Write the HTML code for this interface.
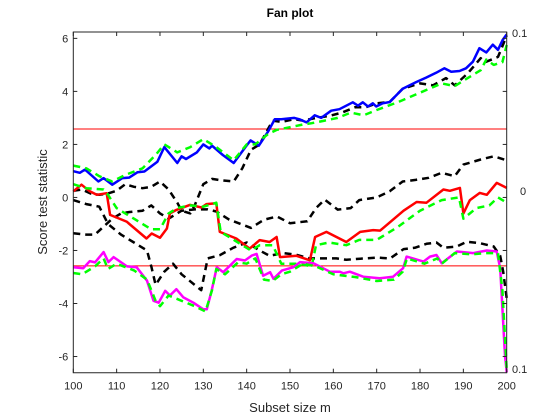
<!DOCTYPE html>
<html><head><meta charset="utf-8"><style>
body{margin:0;background:#fff;}
svg{display:block;font-family:"Liberation Sans",Arial,sans-serif;}
</style></head><body>
<svg id="chart" width="560" height="420" viewBox="0 0 560 420">
<rect width="560" height="420" fill="#fff"/>
<g id="grid"></g>
<g id="series"></g>
<g id="axes"></g>
<text x="290" y="17" text-anchor="middle" font-size="12" font-weight="bold">Fan plot</text>
<text x="290" y="412" text-anchor="middle" font-size="13" fill="#262626">Subset size m</text>
<text transform="translate(47,202) rotate(-90)" text-anchor="middle" font-size="13" fill="#262626">Score test statistic</text>
<text x="512" y="37" font-size="11" fill="#262626">0.1</text>
<text x="520" y="195" font-size="11" fill="#262626">0</text>
<text x="512" y="373" font-size="11" fill="#262626">0.1</text>
</svg>
<script>
const xTicks=[100,110,120,130,140,150,160,170,180,190,200];
const yTicks=[-6,-4,-2,0,2,4,6];
const bandLevels=[2.58,-2.58];
const blueM=[100,101.5,102.7,105.8,107,109,111.3,112.9,114.8,116.4,119.4,121,124,125,126,128.5,130,131.4,132,134.5,137,139.7,140.9,142.8,144,145,146.5,148,151,152.3,153.8,155.7,157.2,159.5,161.4,164.5,165.7,166.8,168,169.1,169.9,171.4,173,176,179.1,181.4,183.7,185.6,187.2,189.1,190.6,192.2,193.7,195.3,196.8,198,199.1,200];
const blueV=[0.99,0.93,1.05,0.6,0.73,0.48,0.73,0.75,0.95,0.98,1.35,1.9,1.3,1.55,1.45,1.7,2.0,1.85,1.95,1.6,1.3,1.9,2.15,1.95,2.25,2.5,2.95,2.95,3.0,2.94,2.83,3.1,3.0,3.27,3.33,3.59,3.46,3.59,3.43,3.55,3.43,3.55,3.6,4.1,4.35,4.52,4.7,4.87,4.74,4.77,4.87,5.12,5.63,5.47,5.76,5.57,5.95,6.15];
const greenUpM=[100,103,106,109,112,116,119,121,124,127,130,133,137,140,142,145,147,150,153,155,158,161,164,167,170,175,180,185,188,191,194,195.3,197,199,200];
const greenUpV=[1.2,1.1,0.8,0.6,0.85,1.1,1.6,2.0,1.7,1.9,2.2,1.9,1.4,2.0,2.0,2.4,2.55,2.65,2.75,2.8,2.9,3.0,3.2,3.1,3.3,3.6,3.95,4.3,4.2,4.5,4.8,5.2,5.0,5.1,5.75];
const redM=[100,101.9,103.8,105.4,107.7,108.5,112.3,116.9,118.1,120,121.6,122.3,123.8,126.9,129.6,130.7,133,133.8,137.6,140.7,143,145.3,146.9,147.7,151.5,154.6,155.8,158.4,163,166.2,169.2,170.8,176.2,179.2,181.5,185.4,186.9,189.2,190,191.5,193.8,195.4,197.7,200];
const redV=[0.23,0.48,0.23,0.1,0.16,-0.66,-0.91,-1.55,-1.36,-1.52,-1.17,-0.6,-0.47,-0.28,-0.38,-0.25,-0.22,-1.3,-1.55,-1.93,-1.61,-1.68,-1.49,-2.25,-2.2,-2.37,-1.49,-1.3,-1.68,-1.3,-1.23,-1.25,-0.5,-0.17,-0.2,0.3,0.25,0.36,-0.6,-0.1,0.17,0.1,0.55,0.36];
const greenMidM=[100,103,107,108,110,114,118,120,122,124,127,130,133,134,138,141,143,146,148,152,155,156,159,163,166,170,175,180,185,189,190,193,196,198,200];
const greenMidV=[0.5,0.35,0.3,0.1,-0.4,-0.8,-1.2,-1.2,-0.6,-0.4,-0.3,-0.35,-0.2,-1.3,-1.7,-2.0,-1.8,-1.8,-2.5,-2.5,-2.6,-1.8,-1.7,-1.8,-1.6,-1.6,-1.1,-0.5,-0.1,0.0,-0.8,-0.4,-0.3,0.0,-0.2];
const magM=[100,102.3,103.8,105,107,108.1,109.3,112.4,114.6,117,118.5,119.7,121.2,122.3,123.8,125.4,127.7,130,130.8,131.9,133.1,134.6,137.7,139.6,141.2,142.3,143.8,145.4,146.2,148.1,150.8,152.3,155.4,159.2,161.5,162.3,163.8,166.9,170.7,173.8,176.1,176.9,180.8,182.3,183.8,185,188.5,192.3,195.4,197.7,198.5,199.6,200];
const magV=[-2.63,-2.67,-2.4,-2.45,-2.06,-2.44,-2.25,-2.6,-2.63,-3.14,-3.9,-3.97,-3.52,-3.7,-3.46,-3.77,-3.97,-4.22,-4.22,-3.52,-2.63,-2.82,-2.32,-2.38,-2.19,-2.13,-2.95,-2.82,-3.07,-2.76,-2.63,-2.44,-2.48,-2.8,-2.8,-2.86,-2.8,-2.99,-3.05,-2.99,-2.67,-2.23,-2.42,-2.23,-2.17,-2.48,-2.04,-2.1,-2.0,-2.04,-2.67,-5.97,-6.6];
const greenLowM=[100,102,105,107,108,110,114,117,119,120,122,125,128,130.5,132,133,135,138,140,142,144,146,148,150,153,156,160,165,170,174,176,177,181,184,185,188,192,195,198,199,200];
const greenLowV=[-2.85,-2.9,-2.6,-2.3,-2.7,-2.5,-2.75,-3.1,-3.9,-4.1,-3.7,-3.9,-4.1,-4.3,-3.5,-2.7,-2.9,-2.45,-2.5,-2.3,-3.1,-3.15,-2.9,-2.8,-2.5,-2.6,-2.9,-3.0,-3.15,-3.1,-2.8,-2.3,-2.5,-2.3,-2.5,-2.1,-2.15,-2.1,-2.1,-3.5,-6.5];
const blackAM=[100,102,104,106,108,110,112,114,116,118,120,122,124,125,127,128,130,132,134,137,139,141,143,145,146,148,151,153,156,159,162,165,167.5,170,173,176,180,183,186,188,191,194,195,198,200];
const blackAV=[0.25,0.3,0.15,0.1,0.15,0.25,0.5,0.4,0.35,0.4,0.6,0.3,-0.2,-0.5,-0.6,-0.3,0.5,0.7,0.65,0.6,1.1,1.8,2.0,2.6,2.9,2.85,2.95,2.9,3.0,3.07,3.2,3.4,3.4,3.55,3.6,4.1,4.3,4.23,4.5,4.23,4.68,5.25,5.1,5.3,6.1];
const blackBM=[100,103,106,108,111,114,117,118,119,121,123,125,128,129.5,131,133.8,136.9,140,143,145.3,148.4,151.4,154.5,157.6,160.7,163,166.2,170,173.1,176.2,178.8,181.5,183.8,185.4,188.5,190.8,193.9,197,198.5,199.2,200];
const blackBV=[-0.1,-0.25,-0.35,-1.0,-1.4,-1.7,-2.0,-2.6,-3.3,-2.8,-2.5,-2.9,-3.3,-3.5,-2.3,-2.18,-1.9,-1.7,-2.0,-2.2,-2.1,-2.16,-2.3,-2.3,-2.3,-2.35,-2.31,-2.27,-2.3,-1.95,-1.9,-1.75,-1.7,-1.9,-1.85,-1.67,-1.73,-1.85,-2.2,-2.8,-3.8];
const blackCM=[100,103,105,107,109,111,113,116,118,120,122,125,128,131,133,136,141,144,147,150,154,156,158,161,164,166,170,173,176,179,182,185,188,190,194,197,200];
const blackCV=[-1.35,-1.4,-1.4,-1.1,-0.8,-0.6,-0.55,-0.5,-0.3,-0.6,-0.8,-0.5,-0.45,-0.45,-0.53,-0.84,-1.15,-0.84,-0.72,-0.97,-0.9,-0.4,-0.08,-0.46,-0.4,-0.1,0.0,0.23,0.6,0.66,0.74,0.93,0.8,1.24,1.43,1.55,1.4];

const L=73.3,R=506.7,T=32,B=372.7;
const xMin=100,xMax=200,yMin=-6.61,yMax=6.24;
const sx=m=>L+(m-xMin)/(xMax-xMin)*(R-L);
const sy=v=>B-(v-yMin)/(yMax-yMin)*(B-T);
const NS='http://www.w3.org/2000/svg';
const axes=document.getElementById('axes'),ser=document.getElementById('series'),grid=document.getElementById('grid');
function mk(tag,attrs,parent){const e=document.createElementNS(NS,tag);for(const k in attrs)e.setAttribute(k,attrs[k]);parent.appendChild(e);return e;}

bandLevels.forEach(b=>{
  const l=mk('line',{x1:L,x2:R,y1:sy(b),y2:sy(b),stroke:'#ff0000','stroke-width':1},grid);
  
  
});

function drawSeries(ms,vs,color,w,dash,name){
  const d=ms.map((m,i)=>(i?'L':'M')+sx(m).toFixed(1)+','+sy(vs[i]).toFixed(1)).join('');
  const p=mk('path',{d:d,fill:'none',stroke:color,'stroke-width':w,'stroke-linejoin':'round','stroke-dasharray':dash||'none'},ser);
  
  
}
drawSeries(blackAM,blackAV,'#000',2.5,'7,5','envelope-upper');
drawSeries(blackBM,blackBV,'#000',2.5,'7,5','envelope-lower');
drawSeries(blackCM,blackCV,'#000',2.5,'7,5','envelope-middle');
drawSeries(blueM,blueV,'#0000ff',2.5,null,'score-lambda-1');
drawSeries(greenUpM,greenUpV,'#00ff00',2.5,'7,5','score-lambda-1-dashed');
drawSeries(redM,redV,'#ff0000',2.5,null,'score-lambda-0');
drawSeries(greenMidM,greenMidV,'#00ff00',2.5,'7,5','score-lambda-0-dashed');
drawSeries(magM,magV,'#ff00ff',2.5,null,'score-lambda-minus-1');
drawSeries(greenLowM,greenLowV,'#00ff00',2.5,'7,5','score-lambda-minus-1-dashed');

const fr=mk('path',{d:`M${L},${T}H${R}V${B}H${L}Z`,fill:'none',stroke:'#262626','stroke-width':1},axes);


xTicks.forEach(t=>{
  const x=sx(t);
  mk('line',{x1:x,x2:x,y1:B,y2:B-4,stroke:'#262626'},axes);
  mk('line',{x1:x,x2:x,y1:T,y2:T+4,stroke:'#262626'},axes);
  const tx=mk('text',{x:x,y:B+17,'text-anchor':'middle','font-size':11,fill:'#262626'},axes);
  tx.textContent=t;
  
  
});
yTicks.forEach(t=>{
  const y=sy(t);
  mk('line',{x1:L,x2:L+4,y1:y,y2:y,stroke:'#262626'},axes);
  mk('line',{x1:R,x2:R-4,y1:y,y2:y,stroke:'#262626'},axes);
  const tx=mk('text',{x:L-5,y:y+4,'text-anchor':'end','font-size':11,fill:'#262626'},axes);
  tx.textContent=t;
  
  
});
</script>
</body></html>
